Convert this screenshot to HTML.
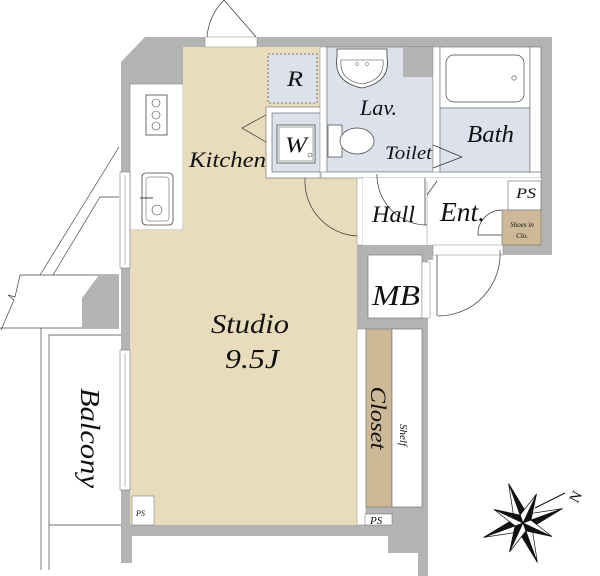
<!DOCTYPE html>
<html><head><meta charset="utf-8"><style>
html,body{margin:0;padding:0;background:#fff;}
svg{display:block;}
text{font-family:"Liberation Serif",serif;font-style:italic;fill:#111;}
</style></head><body>
<svg width="600" height="576" viewBox="0 0 600 576" xmlns="http://www.w3.org/2000/svg">
<g fill="#b3b3b3">
<polygon points="145,37 552,37 552,255 433,255 433,260 428,260 428,576 418,576 418,553 388,553 388,536 132,536 132,563 121,563 121,62"/>
</g>
<rect x="130" y="84" width="53" height="146" fill="#fff" stroke="#888" stroke-width="0.6"/>
<rect x="183" y="47" width="137" height="60" fill="#e8dcbc"/>
<rect x="183" y="107" width="83" height="71" fill="#e8dcbc"/>
<rect x="183" y="178" width="174" height="52" fill="#e8dcbc"/>
<rect x="130" y="230" width="227" height="295" fill="#e8dcbc"/>
<rect x="268" y="54" width="49" height="49" fill="#dde1ec" stroke="#555" stroke-width="0.8" stroke-dasharray="2,2"/>
<rect x="266" y="107" width="55" height="71" fill="#fff" stroke="#666" stroke-width="0.6"/>
<rect x="272" y="113" width="49" height="59" fill="#dde1ec" stroke="#555" stroke-width="0.6"/>
<rect x="277" y="125" width="38" height="38" fill="#fff" stroke="#444" stroke-width="0.8"/>
<rect x="279" y="127" width="34" height="34" fill="none" stroke="#444" stroke-width="0.5"/>
<circle cx="310" cy="155" r="2" fill="none" stroke="#444" stroke-width="0.6"/>
<rect x="320" y="47" width="7" height="131" fill="#fff" stroke="#888" stroke-width="0.5"/>
<rect x="327" y="47" width="106" height="125" fill="#dde1ec" stroke="#666" stroke-width="0.6"/>
<rect x="403" y="47" width="30" height="30" fill="#b3b3b3"/>
<rect x="321" y="172" width="220" height="6" fill="#fff" stroke="#666" stroke-width="0.5"/>
<rect x="433" y="47" width="7" height="125" fill="#fff" stroke="#888" stroke-width="0.5"/>
<path d="M337,49 h50 v8 q4,25 -25,31 q-29,-6 -25,-31 z" fill="#fff" stroke="#444" stroke-width="0.8"/>
<path d="M341,60 h42 q2,20 -21,24 q-23,-4 -21,-24 z" fill="none" stroke="#444" stroke-width="0.6"/>
<circle cx="357" cy="64" r="1.5" fill="none" stroke="#444" stroke-width="0.5"/>
<circle cx="367" cy="64" r="1.5" fill="none" stroke="#444" stroke-width="0.5"/>
<rect x="328" y="125" width="14" height="32" fill="#fff" stroke="#444" stroke-width="0.7"/>
<ellipse cx="357" cy="141" rx="17" ry="13" fill="#fff" stroke="#444" stroke-width="0.7"/>
<rect x="440" y="47" width="90" height="61" fill="#fff" stroke="#666" stroke-width="0.6"/>
<rect x="446" y="55" width="78" height="47" rx="8" fill="#fff" stroke="#444" stroke-width="0.7"/>
<circle cx="514" cy="78" r="2.2" fill="none" stroke="#444" stroke-width="0.6"/>
<rect x="440" y="108" width="90" height="64" fill="#dde1ec" stroke="#666" stroke-width="0.6"/>
<rect x="530" y="47" width="11" height="125" fill="#fff" stroke="#666" stroke-width="0.6"/>
<polyline points="433,145 462,157 433,168" fill="none" stroke="#333" stroke-width="0.7"/>
<polyline points="266,115 242,128 266,142" fill="none" stroke="#333" stroke-width="0.7"/>
<rect x="146" y="95" width="21" height="40" fill="#fff" stroke="#444" stroke-width="0.8"/>
<circle cx="156" cy="103" r="4" fill="none" stroke="#444" stroke-width="0.6"/>
<circle cx="156" cy="115" r="4" fill="none" stroke="#444" stroke-width="0.6"/>
<circle cx="156" cy="126" r="4" fill="none" stroke="#444" stroke-width="0.6"/>
<rect x="142" y="173" width="31" height="52" rx="4" fill="#fff" stroke="#444" stroke-width="0.8"/>
<rect x="146" y="177" width="23" height="44" rx="3" fill="none" stroke="#444" stroke-width="0.5"/>
<circle cx="157" cy="210" r="5" fill="none" stroke="#444" stroke-width="0.6"/>
<line x1="140" y1="198" x2="153" y2="198" stroke="#444" stroke-width="1"/>
<rect x="357" y="178" width="6" height="67" fill="#fff" stroke="#888" stroke-width="0.5"/>
<rect x="363" y="178" width="64" height="67" fill="#fff"/>
<rect x="427" y="178" width="114" height="67" fill="#fff"/>
<line x1="427" y1="181" x2="427" y2="245" stroke="#888" stroke-width="0.5"/>
<rect x="508" y="181" width="33" height="29" fill="#fff" stroke="#666" stroke-width="0.6"/>
<rect x="502" y="210" width="39" height="35" fill="#cdb898" stroke="#666" stroke-width="0.5"/>
<path d="M305,178 A55,55 0 0 0 357,236" fill="none" stroke="#333" stroke-width="0.7"/>
<path d="M377,174 A50,50 0 0 0 427,225" fill="none" stroke="#333" stroke-width="0.7"/>
<line x1="425" y1="178" x2="425" y2="225" stroke="#333" stroke-width="0.7"/>
<line x1="427" y1="195" x2="437" y2="181" stroke="#333" stroke-width="0.7"/>
<path d="M502,210 A24,24 0 0 0 478,235 h24" fill="none" stroke="#333" stroke-width="0.7"/>
<rect x="433" y="245" width="70" height="10" fill="#fff" stroke="#888" stroke-width="0.5"/>
<path d="M500,250 A62,62 0 0 1 438,316" fill="none" stroke="#333" stroke-width="0.7"/>
<line x1="437" y1="255" x2="437" y2="316" stroke="#333" stroke-width="0.7"/>
<rect x="205" y="37" width="52" height="10" fill="#fff" stroke="#888" stroke-width="0.5"/>
<path d="M207,37 A60,60 0 0 1 224,0 L256,37" fill="none" stroke="#333" stroke-width="0.7"/>
<rect x="368" y="255" width="54" height="63" fill="#fff" stroke="#666" stroke-width="0.6"/>
<rect x="422" y="262" width="8" height="56" fill="#fff" stroke="#888" stroke-width="0.5"/>
<rect x="357" y="329" width="9" height="196" fill="#fff" stroke="#888" stroke-width="0.5"/>
<rect x="366" y="329" width="26" height="178" fill="#cdb898" stroke="#777" stroke-width="0.6"/>
<rect x="392" y="329" width="30" height="178" fill="#fff" stroke="#666" stroke-width="0.6"/>
<rect x="365" y="514" width="27" height="11" fill="#fff" stroke="#666" stroke-width="0.5"/>
<rect x="132" y="496" width="22" height="29" fill="#fff" stroke="#666" stroke-width="0.5"/>
<rect x="120" y="172" width="10" height="96" fill="#fff" stroke="#777" stroke-width="0.6"/>
<line x1="125" y1="175" x2="125" y2="265" stroke="#777" stroke-width="0.5"/>
<rect x="120" y="350" width="10" height="140" fill="#fff" stroke="#777" stroke-width="0.6"/>
<line x1="125" y1="353" x2="125" y2="487" stroke="#777" stroke-width="0.5"/>
<g fill="none" stroke="#444" stroke-width="0.7">
<line x1="119" y1="147" x2="40" y2="275"/>
<polyline points="119,197 100,197 53,275"/>
<polyline points="119,275 20,275 15,297 8,295 14,300 1,330"/>
<line x1="0" y1="328" x2="119" y2="328"/>
<polyline points="41,328 41,570"/>
<polyline points="121,335 49,335 49,570"/>
<line x1="49" y1="525" x2="121" y2="525"/>
</g>
<polygon points="99,275 119,275 119,328 82,328 82,298" fill="#b3b3b3"/>
<line x1="535" y1="508" x2="565" y2="493" stroke="#111" stroke-width="1"/>
<g transform="translate(523,523) rotate(-20)" stroke="#111" stroke-width="0.7">
<g><polygon points="0,0 0,-42 7,-7" fill="#111"/><polygon points="0,0 0,-42 -7,-7" fill="#fff"/></g>
<g transform="rotate(90)"><polygon points="0,0 0,-42 7,-7" fill="#111"/><polygon points="0,0 0,-42 -7,-7" fill="#fff"/></g>
<g transform="rotate(180)"><polygon points="0,0 0,-42 7,-7" fill="#111"/><polygon points="0,0 0,-42 -7,-7" fill="#fff"/></g>
<g transform="rotate(270)"><polygon points="0,0 0,-42 7,-7" fill="#111"/><polygon points="0,0 0,-42 -7,-7" fill="#fff"/></g>
<g transform="rotate(45)"><polygon points="0,0 0,-32 6,-6" fill="#111"/><polygon points="0,0 0,-32 -6,-6" fill="#fff"/></g>
<g transform="rotate(135)"><polygon points="0,0 0,-32 6,-6" fill="#111"/><polygon points="0,0 0,-32 -6,-6" fill="#fff"/></g>
<g transform="rotate(225)"><polygon points="0,0 0,-32 6,-6" fill="#111"/><polygon points="0,0 0,-32 -6,-6" fill="#fff"/></g>
<g transform="rotate(315)"><polygon points="0,0 0,-32 6,-6" fill="#111"/><polygon points="0,0 0,-32 -6,-6" fill="#fff"/></g>
</g>
<text x="568" y="500" font-size="15" transform="rotate(-62 576 494)" style="font-style:normal">N</text>
<!-- labels -->
<text x="287" y="86" font-size="22" textLength="16" lengthAdjust="spacingAndGlyphs">R</text>
<text x="285" y="152" font-size="22" textLength="22" lengthAdjust="spacingAndGlyphs">W</text>
<text x="189" y="167" font-size="22" textLength="77" lengthAdjust="spacingAndGlyphs">Kitchen</text>
<text x="360" y="115" font-size="22" textLength="37" lengthAdjust="spacingAndGlyphs">Lav.</text>
<text x="385" y="159" font-size="19" textLength="47" lengthAdjust="spacingAndGlyphs">Toilet</text>
<text x="467" y="142" font-size="24" textLength="47" lengthAdjust="spacingAndGlyphs">Bath</text>
<text x="372" y="222" font-size="23" textLength="43" lengthAdjust="spacingAndGlyphs">Hall</text>
<text x="440" y="221" font-size="27" textLength="45" lengthAdjust="spacingAndGlyphs">Ent.</text>
<text x="516" y="198" font-size="15" textLength="20" lengthAdjust="spacingAndGlyphs">PS</text>
<text x="522" y="227" font-size="7" text-anchor="middle">Shoes in</text>
<text x="522" y="238" font-size="7" text-anchor="middle">Clo.</text>
<text x="372" y="305" font-size="28" textLength="48" lengthAdjust="spacingAndGlyphs">MB</text>
<text x="211" y="333" font-size="27" textLength="78" lengthAdjust="spacingAndGlyphs">Studio</text>
<text x="225" y="368" font-size="27" textLength="54" lengthAdjust="spacingAndGlyphs">9.5J</text>
<text x="0" y="0" font-size="22" text-anchor="middle" textLength="63" lengthAdjust="spacingAndGlyphs" transform="translate(371,418) rotate(90)">Closet</text>
<text x="0" y="0" font-size="11" text-anchor="middle" transform="translate(400,435) rotate(90)">Shelf</text>
<text x="0" y="0" font-size="27" text-anchor="middle" textLength="100" lengthAdjust="spacingAndGlyphs" transform="translate(81,438) rotate(90)">Balcony</text>
<text x="370" y="524" font-size="11">PS</text>
<text x="136" y="516" font-size="8">PS</text>
</svg>
</body></html>
